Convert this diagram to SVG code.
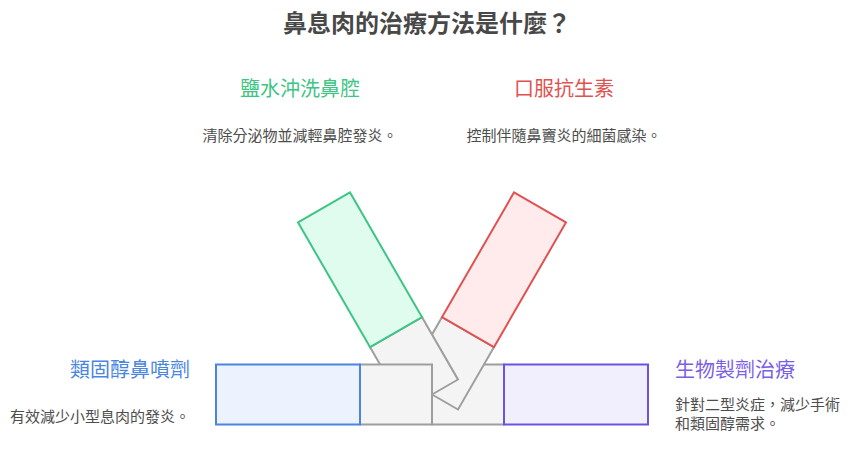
<svg xmlns="http://www.w3.org/2000/svg" width="850" height="450" viewBox="0 0 850 450">
  <style>
    text { font-family: "Noto Sans CJK TC", "Noto Sans CJK SC", "Noto Sans", sans-serif; }
    .title { font-size: 24px; font-weight: bold; fill: #484848; }
    .head { font-size: 20px; }
    .desc { font-size: 15px; fill: #4d4d4d; }
    .base { fill: #f4f4f4; stroke: #9e9e9e; stroke-width: 2; }
    .green { fill: #e0fcef; stroke: #3cc583; stroke-width: 2; }
    .red { fill: #ffebeb; stroke: #e05252; stroke-width: 2; }
    .blue { fill: #edf3fe; stroke: #4a86e0; stroke-width: 2; }
    .purple { fill: #f1effe; stroke: #6b52e0; stroke-width: 2; }
  </style>
  <rect width="850" height="450" fill="#ffffff"/>
  <text class="title" x="427" y="32" text-anchor="middle">鼻息肉的治療方法是什麼？</text>

  <g id="node-biologics">
    <g transform="translate(432,394.5) rotate(180)">
      <rect class="base" x="-72" y="-30" width="72" height="60"/>
      <rect class="purple" x="-216" y="-30" width="144" height="60"/>
    </g>
    <text class="head" x="675" y="377" fill="#7a5fe6">生物製劑治療</text>
    <text class="desc" x="675" y="410">針對二型炎症，減少手術</text>
    <text class="desc" x="675" y="429">和類固醇需求。</text>
  </g>

  <g id="node-antibiotics">
    <g transform="translate(432,394.5) rotate(120)">
      <rect class="base" x="-72" y="-30" width="72" height="60"/>
      <rect class="red" x="-216" y="-30" width="144" height="60"/>
    </g>
    <text class="head" x="564" y="95.5" text-anchor="middle" fill="#e05252">口服抗生素</text>
    <text class="desc" x="564" y="141" text-anchor="middle">控制伴隨鼻竇炎的細菌感染。</text>
  </g>

  <g id="node-saline">
    <g transform="translate(432,394.5) rotate(60)">
      <rect class="base" x="-72" y="-30" width="72" height="60"/>
      <rect class="green" x="-216" y="-30" width="144" height="60"/>
    </g>
    <text class="head" x="300" y="95.5" text-anchor="middle" fill="#3cc583">鹽水沖洗鼻腔</text>
    <text class="desc" x="300" y="141" text-anchor="middle">清除分泌物並減輕鼻腔發炎。</text>
  </g>

  <g id="node-steroid">
    <g transform="translate(432,394.5)">
      <rect class="base" x="-72" y="-30" width="72" height="60"/>
      <rect class="blue" x="-216" y="-30" width="144" height="60"/>
    </g>
    <text class="head" x="190" y="377" text-anchor="end" fill="#4a86e0">類固醇鼻噴劑</text>
    <text class="desc" x="190" y="422" text-anchor="end">有效減少小型息肉的發炎。</text>
  </g>
</svg>
